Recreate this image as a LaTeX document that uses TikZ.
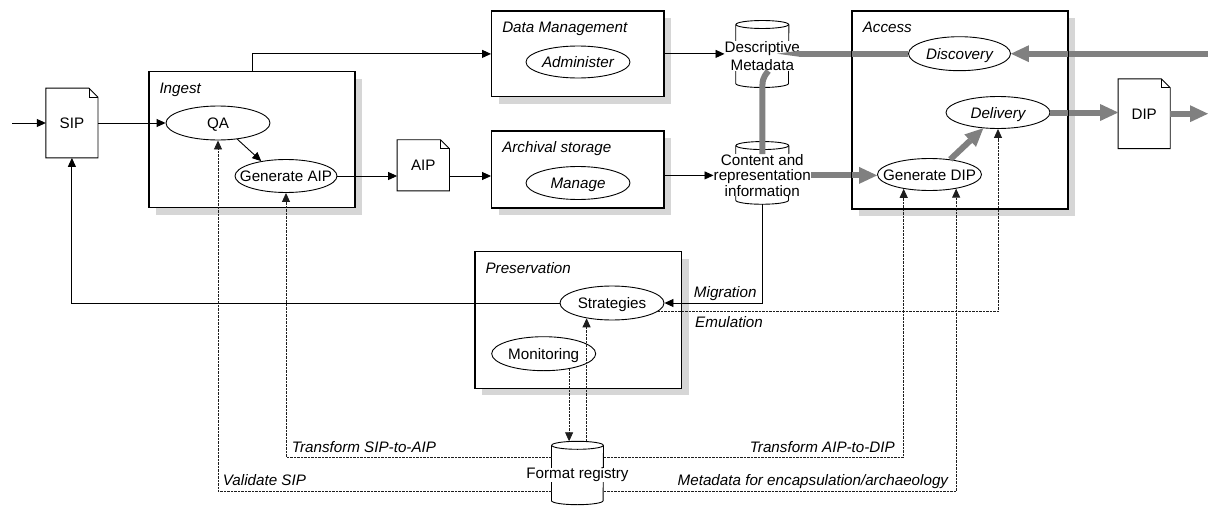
\documentclass[tikz,border=0pt]{standalone}
\usepackage{fontspec}
\setmainfont{Liberation Sans}
\usetikzlibrary{arrows.meta,calc,shapes.geometric,shadows}
\definecolor{flowgray}{RGB}{128,128,128}
\definecolor{shadegray}{RGB}{214,214,214}
\definecolor{dashink}{RGB}{30,30,30}
% zero-width centred text, so an ellipse keeps its given size
\newcommand\ctr[1]{\makebox[0pt]{#1}}
% page outline with a folded top-right corner
\newcommand\docoutline[1]{%
  \draw[docline] (#1.north west) -- ($(#1.north east)+(-9,0)$) -- ($(#1.north east)+(0,9)$) -- (#1.south east) -- (#1.south west) -- cycle;
  \draw[docline] ($(#1.north east)+(-9,0)$) -- ($(#1.north east)+(-9,9)$) -- ($(#1.north east)+(0,9)$);}
% upright storage drum filling the box of the given node
\newcommand\drumoutline[2]{%
  \draw[docline] ($(#1.north west)+(0,4)$) -- ($(#1.south west)+(0,-4)$) arc[start angle=180,end angle=0,x radius=#2,y radius=4] -- ($(#1.north east)+(0,4)$);
  \draw[docline] ($(#1.north)+(0,4)$) ellipse[x radius=#2,y radius=4];}

\begin{document}
\begin{tikzpicture}[x=1pt,y=-1pt,
  every node/.style={inner sep=0pt, font=\fontsize{15.2}{17}\selectfont},
  block/.style={draw, line width=1.4pt, fill=white,
    general shadow={fill=shadegray, shadow xshift=7pt, shadow yshift=-7pt}},
  title/.style={font=\fontsize{15.2}{17}\selectfont\itshape, text height=11pt, text depth=0pt, anchor=west},
  proc/.style={ellipse, draw, line width=0.9pt, fill=white, text height=11pt, text depth=0pt},
  doc/.style={rectangle, text height=11pt, text depth=0pt},
  drum/.style={rectangle},
  drumtext/.style={fill=white, align=center},
  lbl/.style={font=\fontsize{15.2}{17}\selectfont\itshape, text height=11pt, text depth=0pt},
  docline/.style={draw, line width=0.9pt},
  conn/.style={draw, line width=0.9pt, -{Triangle[length=9pt,width=8pt]}},
  dconn/.style={draw=dashink, line width=0.85pt, dash pattern=on 2.5pt off 1pt, -{Triangle[length=9pt,width=8pt]}},
  flow/.style={draw=flowgray, line width=6pt, -{Triangle[length=18pt,width=17pt,line width=0pt]}},
  flowline/.style={draw=flowgray, line width=6pt},
  taper/.style={draw=flowgray, line width=6pt, -{Triangle[length=22pt,width=6pt,line width=0pt]}}
]
\useasboundingbox (0,0) rectangle (1208,506);

% functional entities
\node[block, minimum width=206pt, minimum height=136pt] (ingest) at (252,139.7) {};
\node[block, minimum width=172.3pt, minimum height=85.7pt] (dm) at (577.9,53.9) {};
\node[block, minimum width=172.3pt, minimum height=77pt] (arch) at (577.9,169.5) {};
\node[block, minimum width=206.7pt, minimum height=136.6pt] (pres) at (578.4,320) {};
\node[block, minimum width=215.4pt, minimum height=198pt] (access) at (960,110) {};

\node[title] (ingestT) at ($(ingest.north west)+(11,17)$) {Ingest};
\node[title] (dmT) at ($(dm.north west)+(11,17)$) {Data Management};
\node[title] (archT) at ($(arch.north west)+(11,17)$) {Archival storage};
\node[title] (presT) at ($(pres.north west)+(11,17)$) {Preservation};
\node[title] (accessT) at ($(access.north west)+(11,17)$) {Access};

% processes
\node[proc, minimum width=104pt, minimum height=34pt] (qa) at (218,123) {\ctr{QA}};
\node[proc, minimum width=102pt, minimum height=33pt] (gaip) at (286,176) {\ctr{Generate AIP}};
\node[proc, minimum width=104pt, minimum height=32pt] (admin) at (578,62) {\ctr{\itshape Administer}};
\node[proc, minimum width=104pt, minimum height=33pt] (manage) at (578,183) {\ctr{\itshape Manage}};
\node[proc, minimum width=102pt, minimum height=34pt] (disc) at (959.5,53.7) {\ctr{\itshape Discovery}};
\node[proc, minimum width=104pt, minimum height=32pt] (deliv) at (998,112.5) {\ctr{\itshape Delivery}};
\node[proc, minimum width=104pt, minimum height=32pt] (gdip) at (929.5,174.5) {\ctr{Generate DIP}};
\node[proc, minimum width=104pt, minimum height=34pt] (strat) at (612,303) {\ctr{Strategies}};
\node[proc, minimum width=104pt, minimum height=34pt] (mon) at (543.7,353.7) {\ctr{Monitoring}};

% information packages
\node[doc, minimum width=51.7pt, minimum height=69.4pt] (sip) at (71.9,123) {SIP};
\node[doc, minimum width=52pt, minimum height=50.7pt] (aip) at (423.3,165.3) {AIP};
\node[doc, minimum width=51.7pt, minimum height=69.3pt] (dip) at (1144.2,113.7) {DIP};
\docoutline{sip}
\docoutline{aip}
\docoutline{dip}

% stores
\node[drum, minimum width=52.7pt, minimum height=66.6pt] (dmcyl) at (762.3,54) {};
\node[drum, minimum width=52.7pt, minimum height=62.3pt] (crcyl) at (762.3,172.9) {};
\node[drum, minimum width=51.6pt, minimum height=63pt] (frcyl) at (577.5,473) {};
\drumoutline{dmcyl}{26.35}
\drumoutline{crcyl}{26.35}
\drumoutline{frcyl}{25.8}
\node[drumtext, font=\fontsize{15.2}{18.3}\selectfont] (dmtext) at (762.3,56) {Descriptive\\Metadata};
\node[drumtext, font=\fontsize{15.2}{15.4}\selectfont] (crtext) at (762.3,175.4) {Content and\\representation\\information};
\node[drumtext] (frtext) at (577.5,475) {Format registry};

% free ends and levels of the registry links
\coordinate (sipin) at (12,123);
\coordinate (discin) at (1208,53.7);
\coordinate (dipout) at (1208,0);
\coordinate (dmtip) at (777,53.7);
\coordinate (ytr) at (0,457.3);
\coordinate (yval) at (0,491.7);

% package flow
\draw[conn] (sipin) -- (sip.west);
\draw[conn] (sip.east) -- (qa.west);
\draw[conn] (qa.-40) -- (gaip.149);
\draw[conn] (gaip.east) -- (gaip.east -| aip.west);
\draw[conn] (aip.east |- gaip.east) -- (arch.west |- gaip.east);
\draw[conn] (ingest.north) |- (dm.west);
\draw[conn] (dm.east) -- (dm.east -| dmtext.west);
\draw[conn] (arch.east |- crtext) -- (crtext.west);
\draw[conn] (crcyl.south) |- (strat.east);
\draw[conn] (strat.west) -| (sip.south);

% registry links
\draw[dconn] (frcyl.west |- yval) -| (qa.south);
\draw[dconn] (frcyl.west |- ytr) -| (gaip.south);
\draw[dconn] (frcyl.east |- ytr) -| (gdip.-151);
\draw[dconn] (frcyl.east |- yval) -| (gdip.-28);
\draw[dconn] (strat.-11) -| (deliv.south);
\draw[dconn] (mon.-31) -- (mon.-31 |- frcyl.north);
\draw[dconn] (frcyl.north -| strat.-149) -- (strat.-149);

% link labels
\node[lbl, anchor=west] (tsa) at (291.7,446.7) {Transform SIP-to-AIP};
\node[lbl, anchor=west] (vsip) at (222.7,480) {Validate SIP};
\node[lbl, anchor=east] (tad) at (895,446.7) {Transform AIP-to-DIP};
\node[lbl, anchor=east] (mea) at (948.3,480) {Metadata for encapsulation/archaeology};
\node[lbl, anchor=east] (mig) at (756.7,291.7) {Migration};
\node[lbl, anchor=west] (emu) at (695,321.7) {Emulation};

% user-facing access flow
\draw[flow] (discin) -- (disc.east);
\draw[taper] (disc.west) -- (dmtip);
\draw[flowline] ($(dmtext.south)+(6,0)$) .. controls ($(dmtext.south)+(0,8)$) .. ($(dmtext.south)+(0,24)$) -- (crtext.north);
\draw[flow] (crtext.east) -- (crtext.east -| gdip.west);
\draw[flow] (gdip.36) -- (deliv.-133);
\draw[flow] (deliv.east) -- (deliv.east -| dip.west);
\draw[flow] (dip.east) -- (dip.east -| dipout);

% access border kept above the flows crossing it
\draw[line width=1.4pt] (access.north west) rectangle (access.south east);
\end{tikzpicture}
\end{document}
